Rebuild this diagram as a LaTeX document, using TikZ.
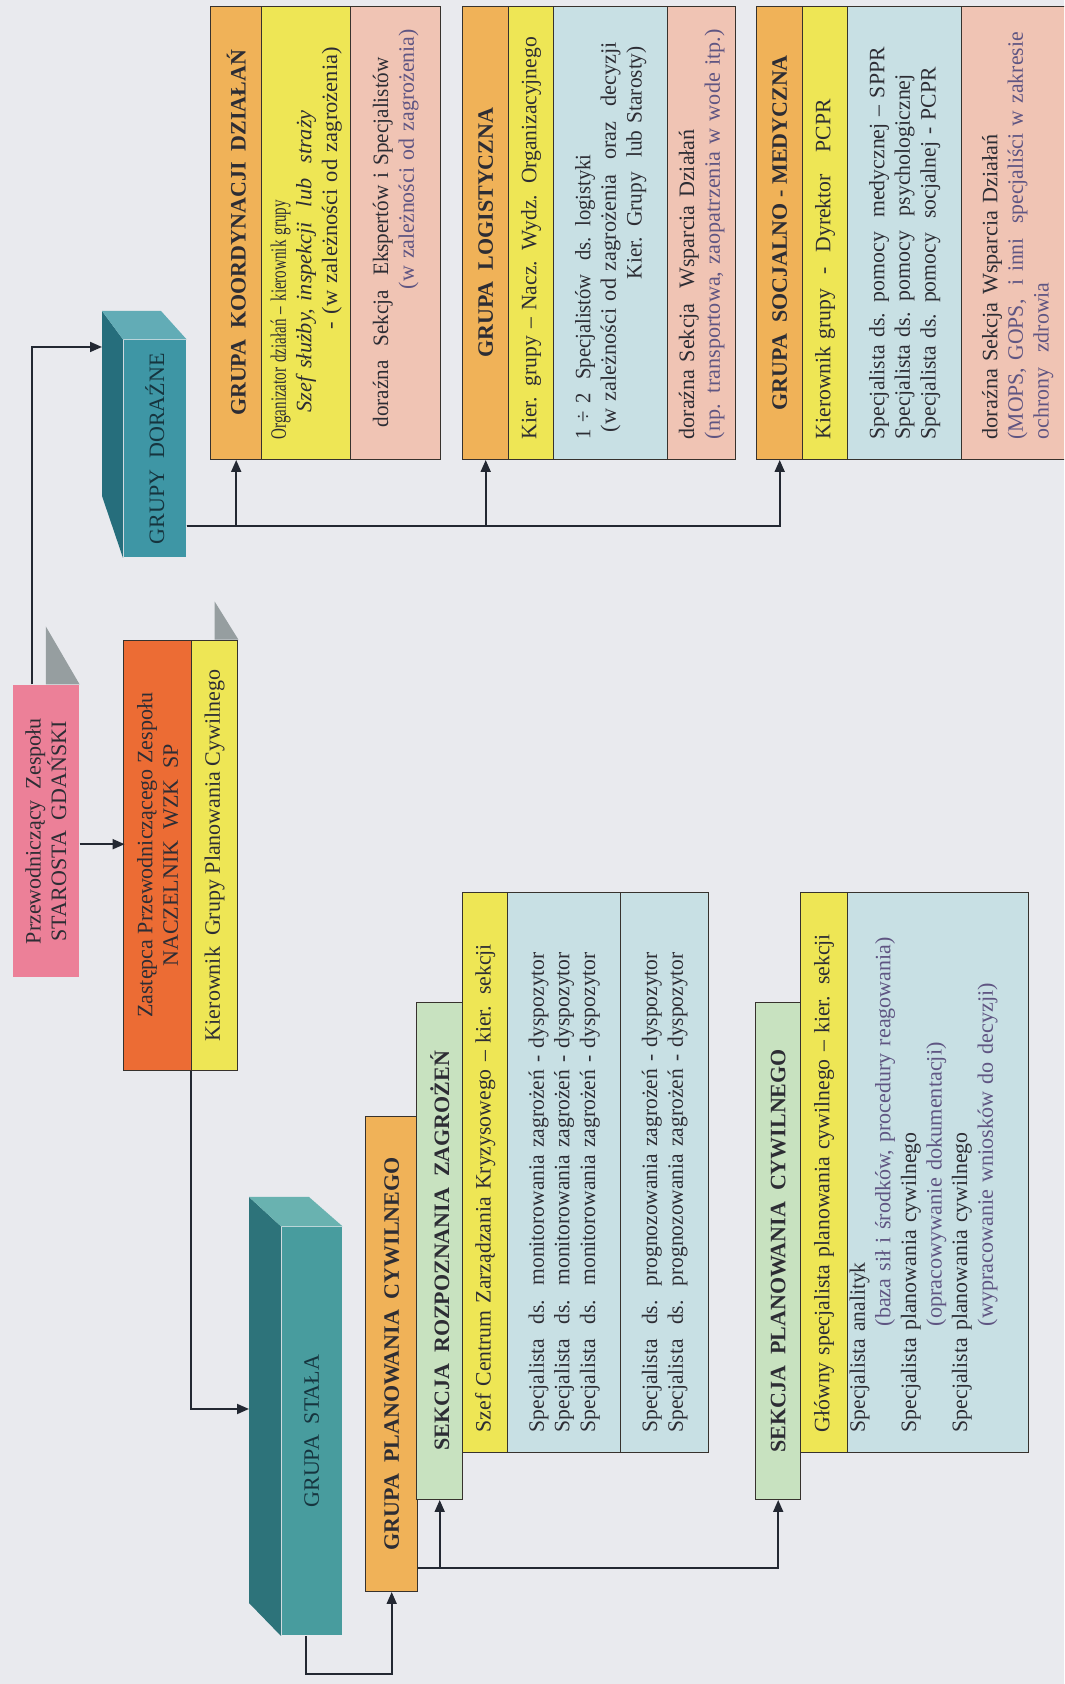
\documentclass[tikz,border=0pt]{standalone}
\usepackage{graphicx}
\usepackage{fontspec}
\setmainfont{Liberation Serif}
\usetikzlibrary{arrows.meta}
\usetikzlibrary{calc}

\definecolor{paper}{RGB}{233,234,238}
\definecolor{boxline}{RGB}{55,50,45}
\definecolor{linkcol}{RGB}{35,40,50}
\definecolor{ink}{RGB}{45,45,52}
\definecolor{note}{RGB}{95,85,130}
\definecolor{tealink}{RGB}{22,52,62}
\definecolor{chairpink}{RGB}{236,128,152}
\definecolor{deputyorange}{RGB}{236,108,52}
\definecolor{rowyellow}{RGB}{238,230,85}
\definecolor{headorange}{RGB}{240,178,88}
\definecolor{rowsalmon}{RGB}{240,196,180}
\definecolor{rowblue}{RGB}{200,224,228}
\definecolor{headgreen}{RGB}{200,226,192}
\definecolor{tealfront}{RGB}{62,150,165}
\definecolor{tealside}{RGB}{38,110,124}
\definecolor{teallight}{RGB}{98,172,182}
\definecolor{stalfront}{RGB}{72,156,158}
\definecolor{stalside}{RGB}{45,115,122}
\definecolor{stallight}{RGB}{105,178,176}
\definecolor{tabgray}{RGB}{150,158,160}

\newcommand{\chartfont}{\fontsize{11}{12.8}\selectfont}
% one line squeezed or stretched to the width it has in the chart
\newcommand{\linia}[2]{\resizebox{#1}{\height}{#2}}

\tikzset{
every picture/.style={line width=0.8pt, >={Triangle[length=6pt,width=5pt]}},
%%%%%%%%%%  Node styles
chartbox/.style={anchor=north west, inner sep=0pt, font=\chartfont, text=ink},
framed/.style={chartbox, draw=boxline, line width=0.7pt},
rowcell/.style={framed, align=left, inner xsep=10pt, text width=#1},
rowcell/.default=206.5pt,
headcell/.style={framed, fill=headorange, font=\chartfont\bfseries},
tealbox/.style={chartbox, text=tealink},
%%%% connectors
link/.style={draw=linkcol, line width=0.9pt},
}

\begin{document}
\begin{tikzpicture}
\fill[paper] (0,0) rectangle (532pt,842pt);
\useasboundingbox (0,0) rectangle (532pt,842pt);
\clip (0,0) rectangle (532pt,842pt);
\begin{scope}[x=0.5pt, y=-0.5pt, rotate=90, transform shape]
%%%%%%%%%% head of the team
\node[chartbox, fill=chairpink, minimum width=146pt, minimum height=33pt,
      align=center] (prz) at (706,12) {Przewodniczący\ \ Zespołu\\STAROSTA\ \ GDAŃSKI};
\fill[tabgray] (prz.east) -- ++(58,0) -- (prz.south east) -- cycle;
\node[framed, fill=deputyorange, minimum width=215pt, minimum height=34pt,
      align=center] (zast) at (613,123) {Zastępca Przewodniczącego Zespołu\\NACZELNIK\ \ WZK\ \ SP};
\node[framed, fill=rowyellow, minimum width=215pt, minimum height=23pt]
      (kgpc) at (613,191) {Kierownik\ \ Grupy Planowania Cywilnego};
\fill[tabgray] (kgpc.east) -- ++(38,0) -- (kgpc.south east) -- cycle;

%%%%%%%%%% ad hoc groups
\node[tealbox, fill=tealfront, minimum width=108.5pt, minimum height=31pt]
      (dor) at (1126,123) {GRUPY\ \ DORAŹNE};
\fill[tealside] (dor.north west) -- (1188,102) -- (1373,102) -- (dor.north east) -- cycle;
\fill[teallight] (dor.north east) -- (1373,102) -- (1373,161) -- (dor.south east) -- cycle;
\coordinate (dortop) at (1337,102);

% coordination
\node[headcell, minimum width=226.5pt, minimum height=25.5pt]
      (gkd) at (1224,210) {GRUPA\ \ KOORDYNACJI\ \ DZIAŁAŃ};
\node[rowcell, fill=rowyellow, minimum height=44.5pt] (gkd-kier) at (1224,261)
      {\linia{119.5pt}{Organizator działań – kierownik grupy}\\
       \hspace*{13.5pt}\linia{151pt}{\itshape Szef służby, inspekcji\ \ lub\ \ straży}\\
       \hspace*{55pt}\linia{141pt}{- (w zależności od zagrożenia)}};
\node[rowcell, fill=rowsalmon, minimum height=45pt] (gkd-dor) at (1224,350)
      {\hspace*{6pt}\linia{185pt}{doraźna\ \ Sekcja\ \ Ekspertów i Specjalistów}\\
       \hspace*{75pt}\linia{130pt}{\color{note}(w zależności od zagrożenia)}};

% logistics
\node[headcell, minimum width=226.5pt, minimum height=23pt]
      (glog) at (1224,462) {GRUPA\ \ LOGISTYCZNA};
\node[rowcell, fill=rowyellow, minimum height=22.5pt] (glog-kier) at (1224,508)
      {\linia{201pt}{Kier. grupy – Nacz. Wydz. Organizacyjnego}};
\node[rowcell, fill=rowblue, minimum height=57pt] (glog-spec) at (1224,553)
      {\linia{142.5pt}{1 ÷ 2\ \ Specjalistów\ \ ds. logistyki}\\
       \hspace*{3.5pt}\linia{195pt}{(w zależności od zagrożenia\ \ oraz\ \ decyzji}\\
       \hspace*{80pt}\linia{116.5pt}{Kier. Grupy\ \ lub Starosty)}};
\node[rowcell, fill=rowsalmon, minimum height=34pt] (glog-dor) at (1224,667)
      {\linia{155pt}{doraźna Sekcja\ \ Wsparcia Działań}\\
       \linia{205pt}{\color{note}(np. transportowa, zaopatrzenia w wode itp.)}};

% social and medical
\node[headcell, minimum width=226.5pt, minimum height=23pt]
      (gsm) at (1224,756) {GRUPA\ \ SOCJALNO - MEDYCZNA};
\node[rowcell, fill=rowyellow, minimum height=22.5pt] (gsm-kier) at (1224,802)
      {\linia{170pt}{Kierownik grupy\ \ -\ \ Dyrektor\ \ \ PCPR}};
\node[rowcell, fill=rowblue, minimum height=57pt] (gsm-spec) at (1224,847)
      {\linia{196pt}{Specjalista ds. pomocy\ \ medycznej – SPPR}\\
       \linia{182.5pt}{Specjalista ds. pomocy\ \ psychologicznej}\\
       \linia{186pt}{Specjalista ds. pomocy\ \ socjalnej - PCPR}};
\node[rowcell, fill=rowsalmon, minimum height=56pt] (gsm-dor) at (1224,961)
      {\linia{152.5pt}{doraźna Sekcja Wsparcia Działań}\\
       \linia{203.5pt}{\color{note}(MOPS, GOPS,\ \ i inni\ \ specjaliści w zakresie}\\
       \linia{78.5pt}{\color{note}ochrony\ \ zdrowia}};

%%%%%%%%%% permanent group
\node[tealbox, fill=stalfront, minimum width=204pt, minimum height=30pt]
      (sta) at (48,281) {GRUPA\ \ STAŁA};
\fill[stalside] (sta.north west) -- (81,249) -- (487,249) -- (sta.north east) -- cycle;
\fill[stallight] (sta.north east) -- (487,249) -- (487,309) -- (sta.south east) -- cycle;
\coordinate (statop) at (275,249);

\node[headcell, minimum width=237.5pt, minimum height=26pt]
      (gpc) at (92,365) {GRUPA\ \ PLANOWANIA\ \ CYWILNEGO};

% threat recognition section
\node[framed, fill=headgreen, minimum width=248.5pt, minimum height=23pt,
      font=\chartfont\bfseries] (srz) at (184,416) {SEKCJA\ \ ROZPOZNANIA\ \ ZAGROŻEŃ};
\node[rowcell=260pt, fill=rowyellow, minimum height=22.5pt] (srz-kier) at (231,462)
      {\linia{244pt}{Szef Centrum Zarządzania Kryzysowego – kier. sekcji}};
\node[rowcell=260pt, fill=rowblue, minimum height=56.5pt] (srz-mon) at (231,507)
      {\linia{240pt}{Specjalista\ \ ds.\ \ monitorowania zagrożeń - dyspozytor}\\
       \linia{240pt}{Specjalista\ \ ds.\ \ monitorowania zagrożeń - dyspozytor}\\
       \linia{240pt}{Specjalista\ \ ds.\ \ monitorowania zagrożeń - dyspozytor}};
\node[rowcell=260pt, fill=rowblue, minimum height=44pt] (srz-prog) at (231,620)
      {\linia{240pt}{Specjalista\ \ ds.\ \ prognozowania zagrożeń - dyspozytor}\\
       \linia{240pt}{Specjalista\ \ ds.\ \ prognozowania zagrożeń - dyspozytor}};

% civil planning section
\node[framed, fill=headgreen, minimum width=248.5pt, minimum height=22.5pt,
      font=\chartfont\bfseries] (spc) at (184,755) {SEKCJA\ \ PLANOWANIA\ \ CYWILNEGO};
\node[rowcell=260pt, fill=rowyellow, minimum height=23.5pt] (spc-kier) at (231,800)
      {\linia{249pt}{Główny specjalista planowania cywilnego – kier. sekcji}};
\node[rowcell=260pt, fill=rowblue, minimum height=90.5pt] (spc-spec) at (231,847)
      {\linia{85pt}{Specjalista analityk}\\
       \hspace*{53pt}\linia{194.5pt}{\color{note}(baza sił i środków, procedury reagowania)}\\
       \linia{150pt}{Specjalista planowania cywilnego}\\
       \hspace*{53pt}\linia{142pt}{\color{note}(opracowywanie dokumentacji)}\\
       \linia{150pt}{Specjalista planowania cywilnego}\\
       \hspace*{53pt}\linia{171.5pt}{\color{note}(wypracowanie wniosków do decyzji)}\\[4.2pt]
       \mbox{}};

%%%%%%%%%% connectors
\draw[link,->] (prz.north east) ++(0,20) -| (dortop);
\draw[link,->] ($(prz.south)+(-13,0)$) -- +(0,45);
\draw[link,->] (kgpc.north west) -| (statop);
\draw[link,->] ($(dor.south west)+(32,0)$) |- (gkd.west);
\draw[link,->] ($(dor.south west)+(32,0)$) |- (glog.west);
\draw[link,->] ($(dor.south west)+(32,0)$) |- (gsm.west);
\draw[link,->] ($(sta.south west)+(0,-37)$) -- ++(-38,0) |- (gpc.west);
\draw[link,->] ($(gpc.south west)+(24,0)$) |- (srz.west);
\draw[link,->] ($(gpc.south west)+(24,0)$) |- (spc.west);
\end{scope}
\end{tikzpicture}
\end{document}
